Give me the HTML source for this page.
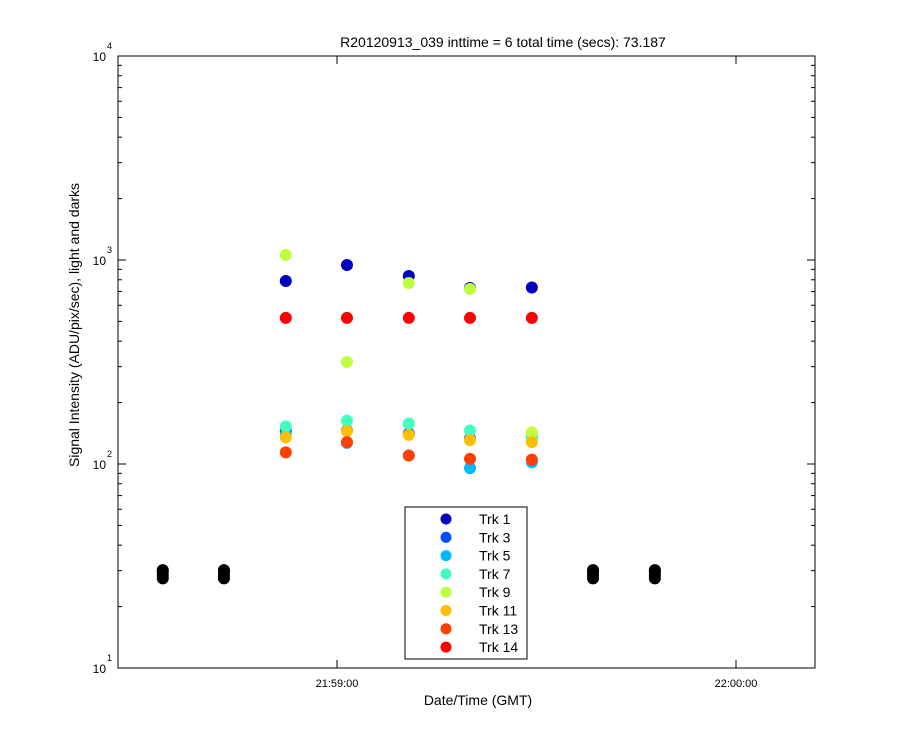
<!DOCTYPE html>
<html><head><meta charset="utf-8"><style>body{margin:0;background:#fff}svg{display:block;font-family:"Liberation Sans",sans-serif}</style></head>
<body>
<svg id="c" width="900" height="750"></svg>
<script>
const times=[-7.7,1.5,10.8,20.0,29.3];
const trk1=[789,945,835,729,733];
const trk3=[145,146,141,133,135];
const trk5=[140,127,110,95.5,102];
const trk7=[153,163,158,146,135];
const trk9=[1059,316,771,721,143];
const trk11=[135,145,139,131,128];
const trk13=[114,128,110,106,105];
const trk14=[520,520,520,520,520];
const darkTimes=[-26.2,-17.0,38.5,47.8];
const darkValues=[27.5,28.5,29.5,30.2];
const seriesNames=["Trk 1","Trk 3","Trk 5","Trk 7","Trk 9","Trk 11","Trk 13","Trk 14"];
const seriesColors=["#0000bf","#0050ff","#00b8ff","#40ffc0","#bfff40","#ffbf00","#ff4000","#ff0000"];
const series=[trk1,trk3,trk5,trk7,trk9,trk11,trk13,trk14];
const xTickVals=[0,60];const xTickLabels=["21:59:00","22:00:00"];
const L=118,R=815,T=56,B=668;
const xs=t=>337+t*6.65;
const ys=v=>B-(Math.log10(v)-1)*204;
const svg=document.getElementById('c');const NS="http://www.w3.org/2000/svg";
function el(tag,a,txt){const e=document.createElementNS(NS,tag);for(const k in a)e.setAttribute(k,a[k]);if(txt!=null)e.textContent=txt;svg.appendChild(e);return e;}
let e=el('rect',{x:L,y:T,width:R-L,height:B-T,fill:'none',stroke:'#000','stroke-width':1});

for(let d=1;d<4;d++)for(let m=1;m<10;m++){const y=ys(m*Math.pow(10,d));const len=m==1?8:4;
el('line',{x1:L,x2:L+len,y1:y,y2:y,stroke:'#000'});el('line',{x1:R,x2:R-len,y1:y,y2:y,stroke:'#000'});}
for(let d=1;d<=4;d++){const y=ys(Math.pow(10,d));
e=el('text',{x:106,y:y+5,'font-size':12,'text-anchor':'end'},'10');
el('text',{x:107,y:y-7,'font-size':9},String(d));}
xTickVals.forEach((t,i)=>{const x=xs(t);el('line',{x1:x,x2:x,y1:B,y2:B-8,stroke:'#000'});el('line',{x1:x,x2:x,y1:T,y2:T+8,stroke:'#000'});
e=el('text',{x:x,y:B+19,'font-size':11,'text-anchor':'middle'},xTickLabels[i]);});
e=el('text',{x:503,y:47,'font-size':14,'text-anchor':'middle'},'R20120913_039 inttime = 6 total time (secs): 73.187');
e=el('text',{x:478,y:705,'font-size':14,'text-anchor':'middle'},'Date/Time (GMT)');
e=el('text',{x:79,y:325,'font-size':14,'text-anchor':'middle',transform:'rotate(-90 79 325)'},'Signal Intensity (ADU/pix/sec), light and darks');
darkTimes.forEach(t=>darkValues.forEach(v=>{e=el('circle',{cx:xs(t),cy:ys(v),r:6,fill:'#000'});}));
series.forEach((s,i)=>s.forEach((v,j)=>{e=el('circle',{cx:xs(times[j]),cy:ys(v),r:6,fill:seriesColors[i]});}));
e=el('rect',{x:405,y:507,width:122,height:152,fill:'#fff',stroke:'#000'});
seriesNames.forEach((n,i)=>{const y=519+i*18.3;el('circle',{cx:446,cy:y,r:5.5,fill:seriesColors[i]});
e=el('text',{x:479,y:y+5,'font-size':14},n);});
</script>
</body></html>
